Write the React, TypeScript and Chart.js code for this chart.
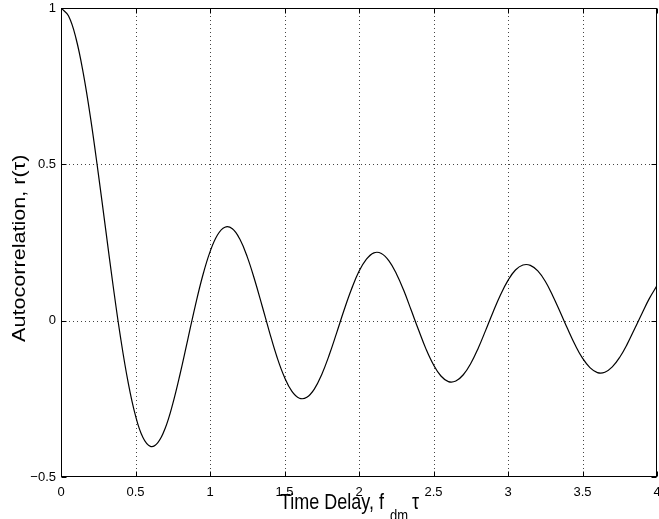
import React, { useEffect, useRef } from "react";
import { Chart, registerables } from "chart.js";

Chart.register(...registerables);

const delays = [
  0, 0.05, 0.1, 0.15, 0.2, 0.25, 0.3, 0.35, 0.4, 0.45,
  0.5, 0.55, 0.6, 0.65, 0.7, 0.75, 0.8, 0.85, 0.9, 0.95,
  1, 1.05, 1.1, 1.15, 1.2, 1.25, 1.3, 1.35, 1.4, 1.45,
  1.5, 1.55, 1.6, 1.65, 1.7, 1.75, 1.8, 1.85, 1.9, 1.95,
  2, 2.05, 2.1, 2.15, 2.2, 2.25, 2.3, 2.35, 2.4, 2.45,
  2.5, 2.55, 2.6, 2.65, 2.7, 2.75, 2.8, 2.85, 2.9, 2.95,
  3, 3.05, 3.1, 3.15, 3.2, 3.25, 3.3, 3.35, 3.4, 3.45,
  3.5, 3.55, 3.6, 3.65, 3.7, 3.75, 3.8, 3.85, 3.9, 3.95,
  4,
];

const autocorr = [
  1.0, 0.975, 0.904, 0.79, 0.643, 0.472, 0.291, 0.111, -0.055, -0.196,
  -0.304, -0.374, -0.402, -0.39, -0.343, -0.266, -0.169, -0.062, 0.045, 0.142,
  0.22, 0.274, 0.299, 0.294, 0.261, 0.204, 0.13, 0.047, -0.038, -0.117,
  -0.181, -0.226, -0.248, -0.245, -0.219, -0.172, -0.11, -0.039, 0.034, 0.101,
  0.158, 0.197, 0.217, 0.215, 0.192, 0.151, 0.097, 0.034, -0.03, -0.091,
  -0.141, -0.177, -0.195, -0.193, -0.173, -0.137, -0.088, -0.031, 0.028, 0.083,
  0.129, 0.162, 0.178, 0.177, 0.159, 0.126, 0.08, 0.028, -0.026, -0.077,
  -0.12, -0.15, -0.166, -0.165, -0.148, -0.117, -0.075, -0.026, 0.024, 0.072,
  0.112,
];

const xTicks = [0, 0.5, 1, 1.5, 2, 2.5, 3, 3.5, 4];
const xTickLabels = ["0", "0.5", "1", "1.5", "2", "2.5", "3", "3.5", "4"];
const yTicks = [-0.5, 0, 0.5, 1];
const yTickLabels = ["\u22120.5", "0", "0.5", "1"];

const xTitleMain = "Time Delay, f";
const xTitleSub = "dm";
const xTitleEnd = "\u03c4";
const yTitle = "Autocorrelation, r(\u03c4)";

const FONT = "'Liberation Sans', Arial, Helvetica, sans-serif";

const framePlugin = {
  id: "matlabFrame",
  beforeDatasetsDraw(chart: any) {
    const { ctx, chartArea } = chart;
    const { left, right, top, bottom } = chartArea;
    const xs = chart.scales.x;
    const ys = chart.scales.y;
    ctx.save();
    ctx.strokeStyle = "#444";
    ctx.lineWidth = 1;
    ctx.setLineDash([1, 3]);
    xTicks.forEach((v) => {
      const px = Math.round(xs.getPixelForValue(v)) + 0.5;
      if (px - 1 <= left || px + 1 >= right) return;
      ctx.beginPath();
      ctx.moveTo(px, top);
      ctx.lineTo(px, bottom);
      ctx.stroke();
    });
    yTicks.forEach((v) => {
      const py = Math.round(ys.getPixelForValue(v)) + 0.5;
      if (py - 1 <= top || py + 1 >= bottom) return;
      ctx.beginPath();
      ctx.moveTo(left, py);
      ctx.lineTo(right, py);
      ctx.stroke();
    });
    ctx.restore();
  },
  afterDatasetsDraw(chart: any) {
    const { ctx, chartArea } = chart;
    const { left, right, top, bottom } = chartArea;
    const xs = chart.scales.x;
    const ys = chart.scales.y;
    const L = Math.round(left) + 0.5;
    const R = Math.round(right) - 0.5;
    const T = Math.round(top) + 0.5;
    const B = Math.round(bottom) - 0.5;
    ctx.save();
    ctx.setLineDash([]);
    ctx.strokeStyle = "#000";
    ctx.lineWidth = 1;
    ctx.strokeRect(L, T, R - L, B - T);
    const tl = 5;
    ctx.beginPath();
    xTicks.forEach((v) => {
      const px = Math.round(xs.getPixelForValue(v)) + 0.5;
      ctx.moveTo(px, B);
      ctx.lineTo(px, B - tl);
      ctx.moveTo(px, T);
      ctx.lineTo(px, T + tl);
    });
    yTicks.forEach((v) => {
      const py = Math.round(ys.getPixelForValue(v)) + 0.5;
      ctx.moveTo(L, py);
      ctx.lineTo(L + tl, py);
      ctx.moveTo(R, py);
      ctx.lineTo(R - tl, py);
    });
    ctx.stroke();

    // x axis title (slightly stretched vertically like the reference)
    ctx.fillStyle = "#000";
    ctx.textBaseline = "alphabetic";
    ctx.textAlign = "left";
    const cx = (left + right) / 2;
    const base = bottom + 32;
    const drawStretched = (text: string, font: string, x: number, y: number) => {
      ctx.save();
      ctx.translate(x, y);
      ctx.scale(1, 1.2);
      ctx.font = font;
      ctx.fillText(text, 0, 0);
      ctx.restore();
    };
    drawStretched(xTitleMain, `18px ${FONT}`, cx - 79, base);
    drawStretched(xTitleSub, `13px ${FONT}`, cx + 31, base + 12);
    drawStretched(xTitleEnd, `18px ${FONT}`, cx + 53, base);

    // y axis title
    ctx.save();
    ctx.translate(25, bottom - 135);
    ctx.rotate(-Math.PI / 2);
    ctx.scale(1.2, 1);
    ctx.font = `18px ${FONT}`;
    ctx.textAlign = "left";
    ctx.textBaseline = "alphabetic";
    ctx.fillText(yTitle, 0, 0);
    ctx.restore();
    ctx.restore();
  },
};

export default function App() {
  const ref = useRef<HTMLCanvasElement | null>(null);
  useEffect(() => {
    document.body.style.margin = "0";
    const canvas = ref.current;
    if (!canvas) return;
    const chart = new Chart(canvas, {
      type: "line",
      data: {
        datasets: [
          {
            data: delays.map((d, i) => ({ x: d, y: autocorr[i] })),
            borderColor: "#000",
            borderWidth: 1.2,
            pointRadius: 0,
            tension: 0.4,
            fill: false,
          },
        ],
      },
      options: {
        responsive: false,
        animation: false,
        devicePixelRatio: 1,
        layout: { padding: { top: 8, right: 2, left: 0, bottom: 0 } },
        plugins: {
          legend: { display: false },
          tooltip: { enabled: false },
        },
        scales: {
          x: {
            type: "linear",
            min: 0,
            max: 4,
            afterBuildTicks: (scale: any) => {
              scale.ticks = xTicks.map((v) => ({ value: v }));
            },
            afterFit: (scale: any) => {
              scale.height = 42;
              scale.paddingLeft = 0;
              scale.paddingRight = 0;
            },
            grid: { display: false, drawTicks: false },
            border: { display: false },
            ticks: {
              padding: 8,
              color: "#000",
              maxRotation: 0,
              autoSkip: false,
              font: { family: FONT, size: 13 },
              callback: (v: any) => {
                const i = xTicks.indexOf(Number(v));
                return i >= 0 ? xTickLabels[i] : "";
              },
            },
          },
          y: {
            type: "linear",
            min: -0.5,
            max: 1,
            afterBuildTicks: (scale: any) => {
              scale.ticks = yTicks.map((v) => ({ value: v }));
            },
            afterFit: (scale: any) => {
              scale.width = 61;
              scale.paddingTop = 0;
              scale.paddingBottom = 0;
            },
            grid: { display: false, drawTicks: false },
            border: { display: false },
            ticks: {
              padding: 5,
              color: "#000",
              autoSkip: false,
              font: { family: FONT, size: 13 },
              callback: (v: any) => {
                const i = yTicks.indexOf(Number(v));
                return i >= 0 ? yTickLabels[i] : "";
              },
            },
          },
        },
      },
      plugins: [framePlugin],
    });
    return () => chart.destroy();
  }, []);
  return <canvas ref={ref} width={659} height={519} style={{ display: "block" }} />;
}
